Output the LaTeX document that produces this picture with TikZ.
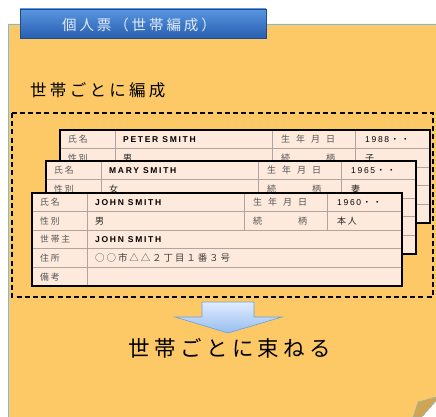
\documentclass[tikz,border=0pt]{standalone}
\usepackage{fontspec}
\newfontfamily\jp{Noto Sans CJK JP}
\newfontfamily\jpsp{Noto Sans CJK JP}[LetterSpace=20]
\newfontfamily\lat{Liberation Sans}[LetterSpace=20]
\usetikzlibrary{shadows}
\definecolor{panelfill}{RGB}{253,201,102}
\definecolor{panelline}{RGB}{120,190,220}
\definecolor{tabtop}{RGB}{90,150,225}
\definecolor{tabbot}{RGB}{40,95,175}
\definecolor{tabtext}{RGB}{225,235,250}
\definecolor{cardfill}{RGB}{253,234,221}
\definecolor{gridcol}{RGB}{175,165,160}
\definecolor{labelcol}{RGB}{85,85,85}
\definecolor{arrowtop}{RGB}{225,236,255}
\definecolor{arrowbot}{RGB}{150,190,240}
\definecolor{arrowedge}{RGB}{110,160,215}
\definecolor{flapcol}{RGB}{205,165,85}
\tikzset{
  cardbg/.style={fill=cardfill},
  cardedge/.style={draw=black, line width=1.7pt},
  gridline/.style={draw=gridcol, line width=0.7pt},
  lbl/.style={anchor=west, inner sep=0pt, text=labelcol, font=\jpsp\fontsize{8.8}{10}\selectfont},
  namev/.style={anchor=west, inner sep=0pt, text=black, font=\lat\bfseries\fontsize{8.5}{10}\selectfont},
  jpv/.style={anchor=west, inner sep=0pt, text=black!85, font=\jpsp\fontsize{9}{10}\selectfont},
  bigtext/.style={inner sep=0pt, text=black, font=\jpsp\fontsize{21.5}{24}\selectfont},
  midtext/.style={anchor=west, inner sep=0pt, text=black, font=\jpsp\fontsize{16.5}{18}\selectfont},
  titletab/.style={draw=tabbot!80!black, line width=0.5pt, top color=tabtop, bottom color=tabbot,
     minimum width=246pt, minimum height=29pt, inner sep=0pt,
     drop shadow={shadow xshift=0.8pt, shadow yshift=-1.2pt, opacity=0.35}},
  titletext/.style={inner sep=0pt, text=tabtext, font=\jpsp\fontsize{14.5}{17}\selectfont},
}
\newcommand\famcard[7]{%
\begin{scope}[shift={(#2,#3)}]
  \path[cardbg] (0,0) rectangle (370,93);
  \foreach \r in {18.6,37.2,55.8,74.4} \draw[gridline] (0,\r) -- (370,\r);
  \draw[gridline] (55,0) -- (55,93);
  \draw[gridline] (212,0) -- (212,37.2) (295,0) -- (295,37.2);
  \draw[cardedge] (0,0) rectangle (370,93);
  \node[lbl] (#1-l1) at (8,9.3) {氏名};
  \node[lbl] (#1-l2) at (8,27.9) {性別};
  \node[namev] (#1-name) at (63,9.3) {#4};
  \node[jpv] (#1-sex) at (63,27.9) {#6};
  \node[lbl, font=\jp\fontsize{9}{10}\selectfont] (#1-birth) at (221,9.3) {\makebox[54pt][s]{生\hfill 年\hfill 月\hfill 日}};
  \node[lbl, font=\jp\fontsize{9}{10}\selectfont] (#1-rel) at (221,27.9) {\makebox[54pt][s]{続\hfill 柄}};
  \node[namev, font=\lat\fontsize{8.5}{10}\selectfont] (#1-year) at (305,9.3) {#5\,{\jp ・ ・}};
  \node[jpv] (#1-relv) at (305,27.9) {#7};
\end{scope}}
\begin{document}
\begin{tikzpicture}[x=1pt, y=-1pt]
\useasboundingbox (0,0) rectangle (436,417);
\fill[white] (0,0) rectangle (436,417);
% panel
\fill[panelfill] (8,24) -- (436,24) -- (436,397) -- (413,417) -- (8,417) -- cycle;
\draw[panelline, line width=0.9pt] (8,417) -- (8,24) -- (436,24);
% page curl
\path[fill=flapcol, draw=panelline, densely dashed, line width=0.6pt] (413,417) -- (418,402) -- (436,397) -- (436,401) -- (422,417) -- cycle;
% title tab
\node[titletab] (tab) at (143,23.5) {};
\node[titletext] (tabt) at (139,24.5) {個人票（世帯編成）};
% subtitle
\node[midtext] (sub) at (30,90) {世帯ごとに編成};
% dashed frame
\draw[black, line width=1.2pt, dash pattern=on 5pt off 3.2pt] (12,113) rectangle (433,297);
% cards
\famcard{p}{60}{130}{PETER SMITH}{1988}{男}{子}
\famcard{m}{46}{161}{MARY SMITH}{1965}{女}{妻}
\famcard{j}{32}{193}{JOHN SMITH}{1960}{男}{本人}
\begin{scope}[shift={(32,193)}]
  \node[lbl] (j-l3) at (8,46.5) {世帯主};
  \node[lbl] (j-l4) at (8,65.1) {住所};
  \node[lbl] (j-l5) at (8,83.7) {備考};
  \node[namev] (j-head) at (63,46.5) {JOHN SMITH};
  \node[jpv, font=\jpsp\fontsize{9.5}{10}\selectfont, text=black!75] (j-addr) at (63,65.1) {○○市△△２丁目１番３号};
\end{scope}
% arrow
\path[draw=arrowedge, line width=0.6pt, top color=arrowtop, bottom color=arrowbot]
  (202,302) -- (254,302) -- (254,317) -- (282,317) -- (228,333) -- (175,317) -- (202,317) -- cycle;
% bottom text
\node[bigtext] (bottom) at (230,348) {世帯ごとに束ねる};
\end{tikzpicture}
\end{document}
